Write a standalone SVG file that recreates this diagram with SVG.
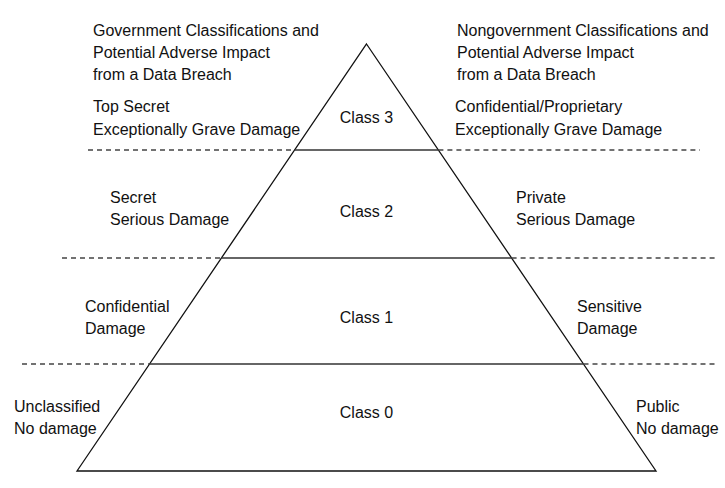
<svg xmlns="http://www.w3.org/2000/svg" width="725" height="488" viewBox="0 0 725 488">
<style>
text{font-family:"Liberation Sans",Arial,sans-serif;font-size:16px;fill:#111}
.mid{text-anchor:middle}
.edge{fill:none;stroke:#111;stroke-width:1.3}
.solid{stroke:#333;stroke-width:1.3}
.dash{stroke:#444;stroke-width:1.3;stroke-dasharray:5 4}
</style>
<rect width="725" height="488" fill="#fff"/>
<g id="pyramid">
<polygon class="edge" points="366.5,44 656,471 77,471"/>
</g>
<g id="connectors">
<line class="dash" x1="88" y1="150" x2="294.6" y2="150"/>
<line class="solid" x1="294.6" y1="150" x2="438.4" y2="150"/>
<line class="dash" x1="438.4" y1="150" x2="700" y2="150"/>
<line class="dash" x1="62" y1="258" x2="221.4" y2="258"/>
<line class="solid" x1="221.4" y1="258" x2="511.6" y2="258"/>
<line class="dash" x1="511.6" y1="258" x2="716" y2="258"/>
<line class="dash" x1="22" y1="364" x2="149.5" y2="364"/>
<line class="solid" x1="149.5" y1="364" x2="583.5" y2="364"/>
<line class="dash" x1="583.5" y1="364" x2="717" y2="364"/>
</g>
<g id="gov-header">
<text x="93" y="36">Government Classifications and</text>
<text x="93" y="58">Potential Adverse Impact</text>
<text x="93" y="80">from a Data Breach</text>
</g>
<g id="nongov-header">
<text x="457" y="36">Nongovernment Classifications and</text>
<text x="457" y="58">Potential Adverse Impact</text>
<text x="457" y="80">from a Data Breach</text>
</g>
<g id="class3">
<text class="mid" x="366.5" y="123">Class 3</text>
<text x="93" y="112">Top Secret</text>
<text x="93" y="135">Exceptionally Grave Damage</text>
<text x="455" y="112">Confidential/Proprietary</text>
<text x="455" y="135">Exceptionally Grave Damage</text>
</g>
<g id="class2">
<text class="mid" x="366.5" y="217">Class 2</text>
<text x="110" y="203">Secret</text>
<text x="110" y="225">Serious Damage</text>
<text x="516" y="203">Private</text>
<text x="516" y="225">Serious Damage</text>
</g>
<g id="class1">
<text class="mid" x="366.5" y="323">Class 1</text>
<text x="85" y="312">Confidential</text>
<text x="85" y="334">Damage</text>
<text x="577" y="312">Sensitive</text>
<text x="577" y="334">Damage</text>
</g>
<g id="class0">
<text class="mid" x="366.5" y="418">Class 0</text>
<text x="14" y="412">Unclassified</text>
<text x="14" y="434">No damage</text>
<text x="636" y="412">Public</text>
<text x="636" y="434">No damage</text>
</g>
</svg>
